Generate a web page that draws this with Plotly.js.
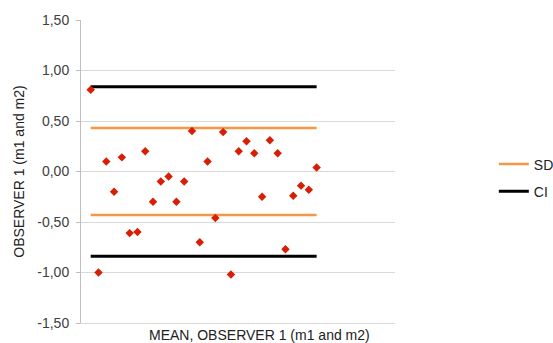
<!DOCTYPE html>
<html>
<head>
<meta charset="utf-8">
<script src="https://cdn.plot.ly/plotly-3.0.1.min.js"></script>
<style>html,body{margin:0;padding:0;background:#fff;}#chart{width:553px;height:343px;}</style>
</head>
<body>
<div id="chart"></div>
<script>
// Measurement index (pairs, in order)
const pairIndex = [1,2,3,4,5,6,7,8,9,10,11,12,13,14,15,16,17,18,19,20,21,22,23,24,25,26,27,28,29,30];
// Difference between m1 and m2, observer 1
const differences = [0.81,-1.00,0.10,-0.20,0.14,-0.61,-0.60,0.20,-0.30,-0.10,-0.05,-0.30,-0.10,0.40,-0.70,
                     0.10,-0.46,0.39,-1.02,0.20,0.30,0.18,-0.25,0.31,0.18,-0.77,-0.24,-0.14,-0.18,0.04];
// Limits
const sdLimit = 0.43;
const ciLimit = 0.84;
// Y tick values and labels
const yTickVals = [-1.5,-1.0,-0.5,0,0.5,1.0,1.5];
const yTickText = ['-1,50','-1,00','-0,50','0,00','0,50','1,00','1,50'];
const seriesNames = ['SD','CI'];

const first = pairIndex[0], last = pairIndex[pairIndex.length-1];

const sdTrace = {
  x:[first,last,null,first,last], y:[sdLimit,sdLimit,null,-sdLimit,-sdLimit],
  mode:'lines', name:seriesNames[0], legendgroup:'sd',
  line:{color:'#f79646', width:2.5}, hoverinfo:'skip'
};
const ciTrace = {
  x:[first,last,null,first,last], y:[ciLimit,ciLimit,null,-ciLimit,-ciLimit],
  mode:'lines', name:seriesNames[1], legendgroup:'ci',
  line:{color:'#000000', width:3}, hoverinfo:'skip'
};
const ptsTrace = {
  x:pairIndex, y:differences, mode:'markers', showlegend:false,
  marker:{symbol:'diamond', size:6.5, color:'#d81e05'}
};

const font = {family:'"Liberation Sans", Arial, sans-serif', size:14, color:'#404040'};

const layout = {
  width:553, height:343,
  margin:{l:81, r:158, t:20, b:20, autoexpand:false},
  paper_bgcolor:'#fff', plot_bgcolor:'#fff',
  font:font,
  showlegend:true,
  legend:{xref:'container', yref:'container', x:0.893, xanchor:'left', y:0.567, yanchor:'top',
          traceorder:'grouped', tracegroupgap:6,
          font:{family:font.family, size:14, color:'#222'}, bgcolor:'rgba(0,0,0,0)'},
  xaxis:{range:[-0.245,40.06], showticklabels:false, showgrid:false, zeroline:false,
         showline:true, linecolor:'#d9d9d9', linewidth:1, ticks:''},
  yaxis:{range:[-1.5,1.5], tickvals:yTickVals, ticktext:yTickText, showgrid:true, gridcolor:'#d9d9d9', gridwidth:1,
         zeroline:false, showline:true, linecolor:'#bfbfbf', linewidth:1, ticks:'outside', ticklen:4, tickcolor:'#bfbfbf',
         ticklabelstandoff:4,
         tickfont:{family:font.family, size:14, color:'#404040'},
         title:{text:'OBSERVER 1 (m1 and m2)', font:{family:font.family, size:14, color:'#222'}, standoff:9}},
  annotations:[{text:'MEAN, OBSERVER 1 (m1 and m2)', xref:'paper', yref:'paper', x:0.57, y:0, yshift:-12,
                xanchor:'center', yanchor:'middle', showarrow:false, font:{family:font.family, size:14, color:'#222'}}]
};

Plotly.newPlot('chart',[sdTrace, ciTrace, ptsTrace], layout, {displayModeBar:false, staticPlot:true});
</script>
</body>
</html>
